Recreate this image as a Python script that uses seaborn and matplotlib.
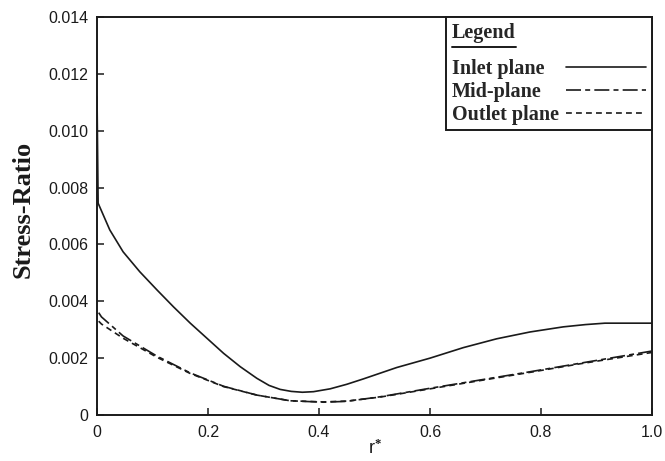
import numpy as np
import pandas as pd
import matplotlib
matplotlib.use('Agg')
import matplotlib.pyplot as plt
import seaborn as sns
from matplotlib.lines import Line2D

# values (r*, stress ratio)
inlet_r = [0.0, 0.002, 0.023, 0.047, 0.077, 0.108, 0.138, 0.168, 0.198, 0.228, 0.258,
           0.288, 0.31, 0.33, 0.35, 0.37, 0.39, 0.42, 0.45, 0.48, 0.54, 0.6, 0.66, 0.72,
           0.78, 0.84, 0.88, 0.915, 1.0]
inlet_s = [0.0112, 0.00745, 0.00651, 0.00574, 0.00504, 0.0044, 0.0038, 0.00323, 0.0027,
           0.00217, 0.0017, 0.00129, 0.00104, 0.0009, 0.00083, 0.0008, 0.00082, 0.00092,
           0.00108, 0.00127, 0.00167, 0.002, 0.00237, 0.00268, 0.00292, 0.0031, 0.00318,
           0.00323, 0.00323]

mid_r = [0.003, 0.008, 0.047, 0.108, 0.168, 0.228, 0.288, 0.348, 0.408, 0.45, 0.51,
         0.6, 0.69, 0.78, 0.87, 1.0]
mid_s = [0.0036, 0.00345, 0.00278, 0.00207, 0.00148, 0.00101, 0.0007, 0.0005, 0.00045,
         0.00048, 0.00064, 0.00094, 0.00123, 0.00152, 0.00182, 0.00225]

outlet_r = [0.003, 0.008, 0.047, 0.108, 0.168, 0.228, 0.288, 0.348, 0.408, 0.45, 0.51,
            0.6, 0.69, 0.78, 0.87, 1.0]
outlet_s = [0.0033, 0.0032, 0.0027, 0.00203, 0.00146, 0.001, 0.0007, 0.0005, 0.00046,
            0.00049, 0.00063, 0.00092, 0.00121, 0.0015, 0.0018, 0.0022]

labels = ['Inlet plane', 'Mid-plane', 'Outlet plane']
x_ticks = [0, 0.2, 0.4, 0.6, 0.8, 1.0]
x_ticklabels = ['0', '0.2', '0.4', '0.6', '0.8', '1.0']
y_ticks = [0, 0.002, 0.004, 0.006, 0.008, 0.010, 0.012, 0.014]
y_ticklabels = ['0', '0.002', '0.004', '0.006', '0.008', '0.010', '0.012', '0.014']

sns.set_style('ticks')
plt.rcParams['font.family'] = ['Liberation Sans', 'DejaVu Sans']
plt.rcParams['mathtext.fontset'] = 'custom'
plt.rcParams['mathtext.rm'] = 'Liberation Serif:bold'
plt.rcParams['mathtext.it'] = 'Liberation Serif:bold'

fig = plt.figure(figsize=(6.65, 4.61), dpi=100)
ax = fig.add_axes([0.1459, 0.0998, 0.8346, 0.8633])

ink = '#1a1a1a'
sns.lineplot(x=inlet_r, y=inlet_s, ax=ax, color=ink, lw=1.2, label=labels[0], sort=False)
sns.lineplot(x=mid_r, y=mid_s, ax=ax, color=ink, lw=1.2, label=labels[1], sort=False)
sns.lineplot(x=outlet_r, y=outlet_s, ax=ax, color=ink, lw=1.2, label=labels[2], sort=False)
ax.lines[1].set_dashes([9, 2.5, 3, 2.5])
ax.lines[2].set_dashes([3.5, 2.5])

ax.set_xlim(0, 1.0)
ax.set_ylim(0, 0.014)
ax.set_xticks(x_ticks)
ax.set_xticklabels(x_ticklabels)
ax.set_yticks(y_ticks)
ax.set_yticklabels(y_ticklabels)
ax.tick_params(direction='in', length=5, width=1.1, labelsize=11.5, colors=ink)
ax.tick_params(axis='x', pad=7.5)
ax.tick_params(axis='y', pad=6)
for s in ax.spines.values():
    s.set_linewidth(1.4)
    s.set_color(ink)

ax.set_ylabel('Stress-Ratio', family='Liberation Serif', fontweight='bold', fontsize=19,
              color=ink)
ax.yaxis.set_label_coords(-0.113, 0.516)
ax.set_xlabel(r'r$^{*}$', fontsize=13, labelpad=-1, color=ink)

fp = {'family': 'Liberation Serif', 'weight': 'bold', 'size': 14.5}
leg = ax.legend(title='Legend', loc='upper right', borderaxespad=0, markerfirst=False,
                fancybox=False, edgecolor=ink, framealpha=1, handlelength=4.0,
                handletextpad=0.35, labelspacing=0.13, borderpad=0.28, prop=fp)
leg.get_frame().set_linewidth(1.4)
leg.get_title().set_fontproperties(fp)
leg._legend_box.align = 'left'
leg._legend_box.sep = 12
for h in leg.legend_handles:
    h.set_linewidth(1.2)

# left-align the labels while keeping the line samples flush right
fig.canvas.draw()
widths = [t.get_window_extent().width for t in leg.get_texts()]
rows = leg._legend_handle_box.get_children()[0].get_children()
base = 0.35 * 14.5
for row, w in zip(rows, widths):
    row.sep = base + (max(widths) - w) * 72 / fig.dpi
fig.canvas.draw()

# underline under the legend title
bb = leg.get_title().get_window_extent()
y_px = bb.y0 - 4
x0, y0 = fig.transFigure.inverted().transform((bb.x0, y_px))
x1, _ = fig.transFigure.inverted().transform((bb.x1, y_px))
fig.add_artist(Line2D([x0, x1], [y0, y0], transform=fig.transFigure, color=ink, lw=1.4))

fig.savefig('out.png', dpi=100)
